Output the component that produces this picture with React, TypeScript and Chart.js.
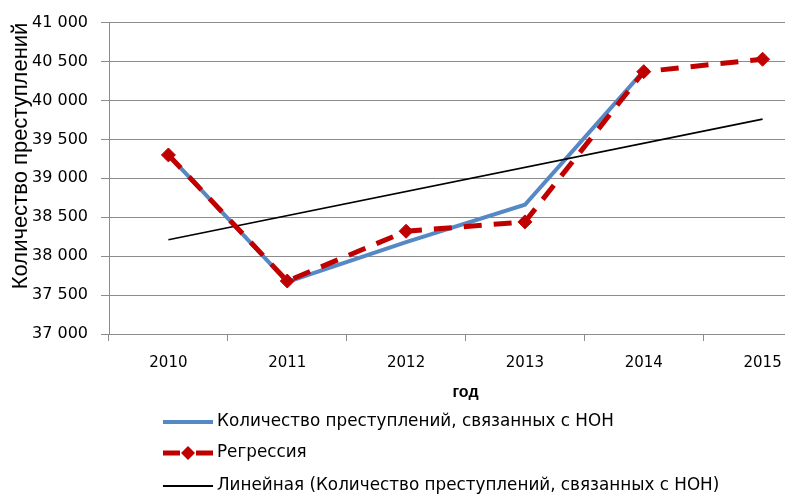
import React, { useEffect, useRef } from "react";
import { Chart, registerables } from "chart.js";

Chart.register(...registerables);

// ---- data ----
const years = ["2010", "2011", "2012", "2013", "2014", "2015"];
const crimes = [39300, 37670, 38180, 38660, 40380];
const regression = [39300, 37680, 38320, 38440, 40370, 40530];
const trend = [38210, null, null, null, null, 39760];
const seriesNames = [
  "Количество преступлений, связанных с НОН",
  "Регрессия",
  "Линейная (Количество преступлений, связанных с НОН)",
];
const yTitle = "Количество преступлений";
const xTitle = "год";
const yMin = 37000;
const yMax = 41000;
const yStep = 500;

const BLUE = "#5689C4";
const RED = "#C00000";
const GRID = "#8c8c8c";

const fmt = (v: number) => String(v).replace(/\B(?=(\d{3})+(?!\d))/g, " ");

const legendPlugin = {
  id: "customLegend",
  afterDraw(chart: any) {
    const ctx = chart.ctx as CanvasRenderingContext2D;
    ctx.save();
    const x0 = 163;
    const x1 = 213;
    const tx = 217;
    const rows = [422, 453, 486];
    ctx.font = "16.8px 'DejaVu Sans'";
    ctx.textBaseline = "middle";
    ctx.fillStyle = "#000";
    // row 1: blue solid
    ctx.strokeStyle = BLUE;
    ctx.lineWidth = 4;
    ctx.beginPath();
    ctx.moveTo(x0, rows[0]);
    ctx.lineTo(x1, rows[0]);
    ctx.stroke();
    ctx.fillText(seriesNames[0], tx, rows[0]);
    // row 2: red dashed + diamond
    ctx.strokeStyle = RED;
    ctx.lineWidth = 5;
    ctx.beginPath();
    ctx.moveTo(x0, rows[1]);
    ctx.lineTo(x0 + 17, rows[1]);
    ctx.moveTo(x1 - 17, rows[1]);
    ctx.lineTo(x1, rows[1]);
    ctx.stroke();
    ctx.fillStyle = RED;
    const cx = (x0 + x1) / 2;
    const r = 7;
    ctx.beginPath();
    ctx.moveTo(cx, rows[1] - r);
    ctx.lineTo(cx + r, rows[1]);
    ctx.lineTo(cx, rows[1] + r);
    ctx.lineTo(cx - r, rows[1]);
    ctx.closePath();
    ctx.fill();
    ctx.fillStyle = "#000";
    ctx.fillText(seriesNames[1], tx, rows[1]);
    // row 3: black thin
    ctx.strokeStyle = "#000";
    ctx.lineWidth = 2;
    ctx.beginPath();
    ctx.moveTo(x0, rows[2]);
    ctx.lineTo(x1, rows[2]);
    ctx.stroke();
    ctx.fillText(seriesNames[2], tx, rows[2]);
    ctx.restore();
  },
};

export default function App() {
  const ref = useRef<HTMLCanvasElement | null>(null);
  useEffect(() => {
    if (!ref.current) return;
    const chart = new Chart(ref.current, {
      type: "line",
      data: {
        labels: years,
        datasets: [
          {
            label: seriesNames[1],
            data: regression,
            borderColor: RED,
            backgroundColor: RED,
            borderWidth: 5,
            borderDash: [18, 12],
            pointStyle: "rectRot",
            pointRadius: 7,
            pointBackgroundColor: RED,
            pointBorderColor: RED,
            pointBorderWidth: 1,
            tension: 0,
            order: 0,
          },
          {
            label: seriesNames[2],
            data: trend as any,
            borderColor: "#000",
            borderWidth: 1.6,
            pointRadius: 0,
            spanGaps: true,
            tension: 0,
            order: 1,
          },
          {
            label: seriesNames[0],
            data: crimes,
            borderColor: BLUE,
            backgroundColor: BLUE,
            borderWidth: 4,
            pointRadius: 0,
            tension: 0,
            order: 2,
          },
        ],
      },
      options: {
        responsive: false,
        animation: false,
        devicePixelRatio: 1,
        layout: { padding: { left: 0, right: 7, top: 20, bottom: 91 } },
        plugins: {
          legend: { display: false },
          tooltip: { enabled: false },
          title: { display: false },
        },
        scales: {
          x: {
            type: "category",
            offset: true,
            grid: {
              offset: true,
              drawOnChartArea: false,
              drawTicks: true,
              tickLength: 7,
              color: GRID,
            },
            border: { display: true, color: GRID, width: 1 },
            ticks: {
              color: "#000",
              padding: 13,
              font: { family: "'DejaVu Sans'", size: 15 },
              maxRotation: 0,
            },
            title: {
              display: true,
              text: xTitle,
              color: "#000",
              font: { family: "'Liberation Sans'", size: 16, weight: "bold" },
              padding: { top: 0, bottom: 2 },
            },
            afterFit: (s: any) => {
              s.height = 70;
            },
          },
          y: {
            min: yMin,
            max: yMax,
            ticks: {
              stepSize: yStep,
              color: "#000",
              padding: 13,
              font: { family: "'DejaVu Sans'", size: 16 },
              callback: (v: any) => fmt(Number(v)),
            },
            grid: { color: GRID, tickLength: 8, lineWidth: 1 },
            border: { display: true, color: GRID, width: 1 },
            title: {
              display: true,
              text: yTitle,
              align: "end",
              color: "#000",
              font: { family: "'Liberation Sans'", size: 22 },
              padding: { top: 8, bottom: 0 },
            },
            afterFit: (s: any) => {
              s.width = 109;
            },
          },
        },
      },
      plugins: [legendPlugin],
    });
    return () => chart.destroy();
  }, []);
  return (
    <div
      style={{
        position: "absolute",
        left: 0,
        top: 0,
        width: 785,
        height: 495,
        overflow: "hidden",
        background: "#fff",
      }}
    >
      <canvas
        ref={ref}
        width={830}
        height={495}
        style={{ width: 830, height: 495, display: "block" }}
      />
    </div>
  );
}
